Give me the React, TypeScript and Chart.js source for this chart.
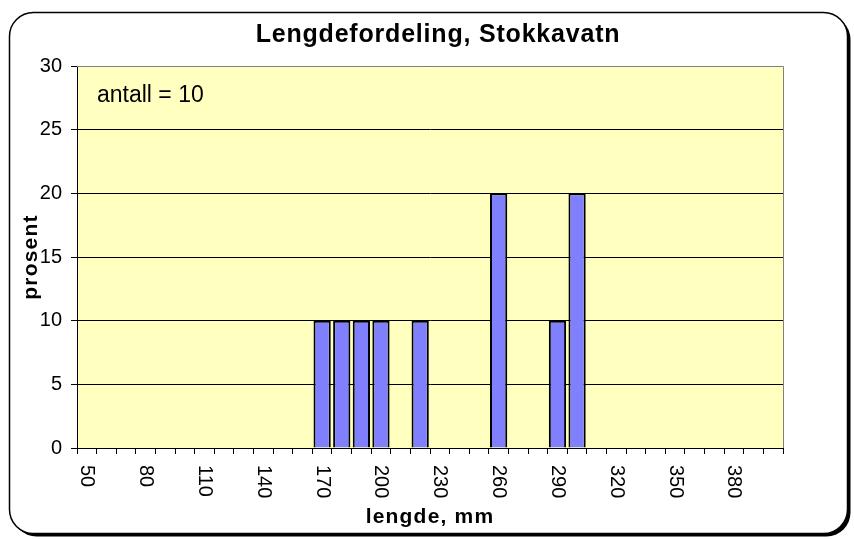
import { useEffect, useRef } from "react";
import { Chart, registerables } from "chart.js";

Chart.register(...registerables);

const categories = [
  50, 60, 70, 80, 90, 100, 110, 120, 130, 140, 150, 160, 170, 180, 190, 200, 210, 220,
  230, 240, 250, 260, 270, 280, 290, 300, 310, 320, 330, 340, 350, 360, 370, 380, 390, 400,
];
const percent = [
  0, 0, 0, 0, 0, 0, 0, 0, 0, 0, 0, 0, 10, 10, 10, 10, 0, 10,
  0, 0, 0, 20, 0, 0, 10, 20, 0, 0, 0, 0, 0, 0, 0, 0, 0, 0,
];
const yTicks = [0, 5, 10, 15, 20, 25, 30];
const xTickLabels = ["50", "80", "110", "140", "170", "200", "230", "260", "290", "320", "350", "380"];
const chartTitle = "Lengdefordeling, Stokkavatn";
const yTitle = "prosent";
const xTitle = "lengde, mm";
const note = "antall = 10";

const FONT = "'Liberation Sans', Arial, sans-serif";

function roundRect(ctx: CanvasRenderingContext2D, x: number, y: number, w: number, h: number, r: number) {
  ctx.beginPath();
  ctx.moveTo(x + r, y);
  ctx.lineTo(x + w - r, y);
  ctx.arcTo(x + w, y, x + w, y + r, r);
  ctx.lineTo(x + w, y + h - r);
  ctx.arcTo(x + w, y + h, x + w - r, y + h, r);
  ctx.lineTo(x + r, y + h);
  ctx.arcTo(x, y + h, x, y + h - r, r);
  ctx.lineTo(x, y + r);
  ctx.arcTo(x, y, x + r, y, r);
  ctx.closePath();
}

const decorPlugin = {
  id: "decor",
  beforeDraw(chart: any) {
    const ctx: CanvasRenderingContext2D = chart.ctx;
    const a = chart.chartArea;
    ctx.save();
    roundRect(ctx, 12.5, 15.5, 838, 521, 24);
    ctx.fillStyle = "#000";
    ctx.fill();
    roundRect(ctx, 9.5, 12.5, 838, 521, 24);
    ctx.fillStyle = "#fff";
    ctx.fill();
    ctx.lineWidth = 1.5;
    ctx.strokeStyle = "#000";
    ctx.stroke();
    ctx.fillStyle = "#FFFFC0";
    ctx.fillRect(a.left, a.top, a.right - a.left, a.bottom - a.top);
    ctx.restore();
  },
  afterDraw(chart: any) {
    const ctx: CanvasRenderingContext2D = chart.ctx;
    const a = chart.chartArea;
    const xs = chart.scales.x;
    ctx.save();
    ctx.strokeStyle = "#808080";
    ctx.lineWidth = 1;
    ctx.beginPath();
    ctx.moveTo(a.left, a.top + 0.5);
    ctx.lineTo(a.right + 0.5, a.top + 0.5);
    ctx.lineTo(a.right + 0.5, a.bottom);
    ctx.stroke();

    ctx.fillStyle = "#000";
    (ctx as any).letterSpacing = "0.8px";
    ctx.font = `bold 25px ${FONT}`;
    ctx.textAlign = "center";
    ctx.textBaseline = "alphabetic";
    ctx.fillText(chartTitle, 438, 42);

    (ctx as any).letterSpacing = "1.2px";
    ctx.font = `bold 21px ${FONT}`;
    ctx.fillText(xTitle, (a.left + a.right) / 2, 523);

    ctx.save();
    ctx.translate(37, (a.top + a.bottom) / 2);
    ctx.rotate(-Math.PI / 2);
    ctx.fillText(yTitle, 0, 0);
    ctx.restore();

    (ctx as any).letterSpacing = "0px";
    ctx.font = `23px ${FONT}`;
    ctx.textAlign = "left";
    ctx.fillText(note, 97, 102);

    ctx.font = `20px ${FONT}`;
    ctx.textBaseline = "middle";
    for (const lbl of xTickLabels) {
      const idx = categories.indexOf(Number(lbl));
      const x = xs.getPixelForValue(idx);
      ctx.save();
      ctx.translate(x, 465);
      ctx.rotate(Math.PI / 2);
      ctx.fillText(lbl, 0, 0);
      ctx.restore();
    }
    ctx.restore();
  },
};

export default function App() {
  const ref = useRef<HTMLCanvasElement>(null);
  useEffect(() => {
    if (!ref.current) return;
    const chart = new Chart(ref.current, {
      type: "bar",
      data: {
        labels: categories.map(String),
        datasets: [
          {
            data: percent,
            backgroundColor: "#8080FF",
            borderColor: "#000",
            borderWidth: 2,
            categoryPercentage: 1,
            barPercentage: 0.88,
          },
        ],
      },
      options: {
        responsive: false,
        animation: false,
        devicePixelRatio: 1,
        layout: { padding: { left: 0, top: 66, right: 71, bottom: 0 } },
        plugins: { legend: { display: false }, tooltip: { enabled: false }, title: { display: false } },
        scales: {
          x: {
            offset: true,
            afterFit: (s: any) => {
              s.height = 91;
            },
            ticks: { display: false },
            grid: { drawOnChartArea: false, tickLength: 6, tickColor: "#000", offset: true },
            border: { color: "#000", width: 1 },
          },
          y: {
            min: 0,
            max: 30,
            afterFit: (s: any) => {
              s.width = 77;
            },
            afterBuildTicks: (s: any) => {
              s.ticks = yTicks.map((v) => ({ value: v }));
            },
            ticks: { color: "#000", font: { family: FONT, size: 20 }, padding: 9 },
            grid: { color: "#000", tickLength: 6, tickColor: "#000" },
            border: { color: "#000", width: 1 },
          },
        },
      },
      plugins: [decorPlugin],
    });
    return () => chart.destroy();
  }, []);
  return (
    <div style={{ position: "absolute", left: 0, top: 0, width: 854, height: 539 }}>
      <canvas ref={ref} width={854} height={539} style={{ display: "block", width: 854, height: 539 }} />
    </div>
  );
}
